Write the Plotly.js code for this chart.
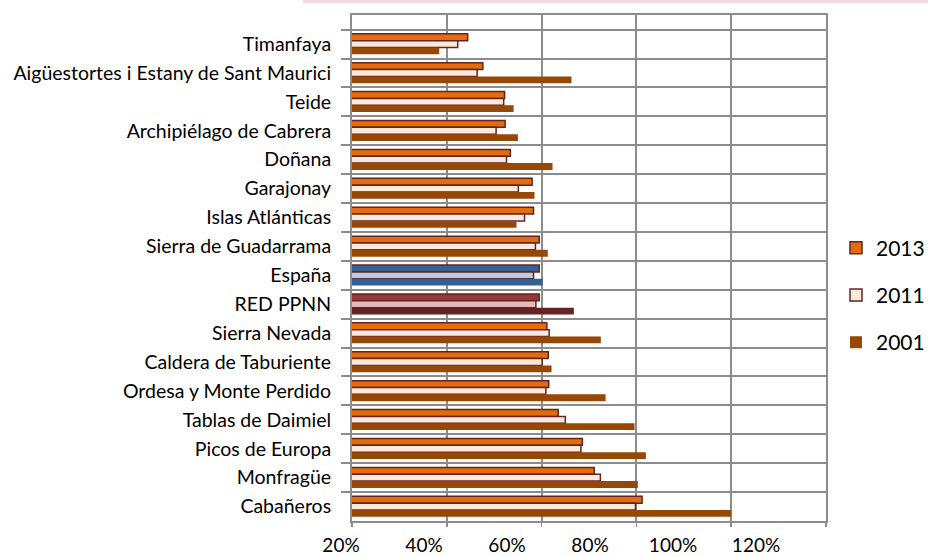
<!DOCTYPE html>
<html>
<head>
<meta charset="utf-8">
<script src="https://cdn.plot.ly/plotly-3.0.1.min.js"></script>
<style>html,body{margin:0;padding:0;background:#fff;}#chart{width:928px;height:557px;}</style>
</head>
<body>
<div id="chart"></div>
<script>
const categories = ["Timanfaya","Aigüestortes i Estany de Sant Maurici","Teide","Archipiélago de Cabrera","Doñana","Garajonay","Islas Atlánticas","Sierra de Guadarrama","España","RED PPNN","Sierra Nevada","Caldera de Taburiente","Ordesa y Monte Perdido","Tablas de Daimiel","Picos de Europa","Monfragüe","Cabañeros"];
const v2013 = [44.4,47.6,52.2,52.3,53.4,58.0,58.3,59.5,59.5,59.5,61.1,61.4,61.5,63.5,68.6,71.1,81.2];
const v2011 = [42.3,46.4,52.0,50.4,52.6,55.1,56.4,58.7,58.3,58.8,61.6,60.1,60.9,65.0,68.3,72.4,79.8];
const v2001 = [38.4,66.3,54.1,55.0,62.3,58.5,54.7,61.3,60.2,66.8,72.5,62.1,73.5,79.6,82.0,80.3,100.0];
const seriesNames = ["2013","2011","2001"];
const xTickVals = [20,40,60,80,100,120];
const xTickLabels = ["20%","40%","60%","80%","100%","120%"];

const base = {"2013":"#E46C0A","2011":"#FDE9D9","2001":"#974706"};
const special = {
  "España": {"2013":"#376092","2011":"#B9CDE5","2001":"#376092"},
  "RED PPNN": {"2013":"#953735","2011":"#E6B9B8","2001":"#632523"}
};
function colorsFor(name){ return categories.map(c => (special[c] ? special[c][name] : base[name])); }

const values = {"2013":v2013,"2011":v2011,"2001":v2001};
const traces = seriesNames.map((name) => ({
  type:"bar", orientation:"h", name:name, y:categories, x:values[name],
  legendgroup:name,
  marker:{color:colorsFor(name), line:{color: name==="2001" ? colorsFor(name) : "#632523", width: name==="2001" ? 0 : 1.5}},
  hoverinfo:"x+y"
}));
traces.push({type:"scatter", mode:"markers", x:[xTickVals[0], xTickVals[xTickVals.length-1]], y:[categories[0],categories[0]],
  xaxis:"x2", yaxis:"y", marker:{opacity:0}, showlegend:false, hoverinfo:"skip"});

const W = 928, L = 300, R = 102;
const pw = W - L - R;
const layout = {
  width:928, height:557,
  margin:{l:L, r:R, t:15, b:36, autoexpand:false},
  paper_bgcolor:"#fff", plot_bgcolor:"rgba(0,0,0,0)",
  font:{family:"Lato, 'Open Sans', sans-serif", size:19, color:"#000"},
  barmode:"group", bargap:0.29, bargroupgap:0,
  showlegend:true,
  legend:{x:(836-L)/pw, xanchor:"left", y:(521-295)/506, yanchor:"middle", font:{size:21}, tracegroupgap:17, traceorder:"grouped", bgcolor:"rgba(0,0,0,0)"},
  xaxis:{domain:[(352-L)/pw,1], range:[20,120], tickvals:xTickVals, showticklabels:false, showgrid:true, gridcolor:"#8c8c8c", gridwidth:2,
    showline:true, mirror:true, linecolor:"#8c8c8c", linewidth:2, ticks:"outside", ticklen:4, tickcolor:"#8c8c8c", tickwidth:1.5, zeroline:false, fixedrange:true},
  xaxis2:{domain:[(341-L)/pw,(756-L)/pw], range:[20,120], anchor:"free", position:0, tickvals:xTickVals, ticktext:xTickLabels,
    showgrid:false, showline:false, ticks:"", zeroline:false, tickfont:{size:19}, ticklabelstandoff:11, fixedrange:true},
  yaxis:{type:"category", autorange:"reversed", tickson:"boundaries", showgrid:true, gridcolor:"#8c8c8c", gridwidth:2,
    showline:true, mirror:true, linecolor:"#8c8c8c", linewidth:2, ticks:"outside", ticklen:4, tickcolor:"#8c8c8c", tickwidth:1.5,
    ticklabelstandoff:15, tickfont:{size:19.5}, fixedrange:true},
  shapes:[{type:"rect", xref:"paper", yref:"paper", x0:(303-L)/pw, x1:(928-L)/pw, y0:(521-0)/506, y1:(521-3)/506, fillcolor:"#F2DCDB", line:{width:0}, layer:"below"}]
};
Plotly.newPlot("chart", traces, layout, {displayModeBar:false, staticPlot:true});
</script>
</body>
</html>
